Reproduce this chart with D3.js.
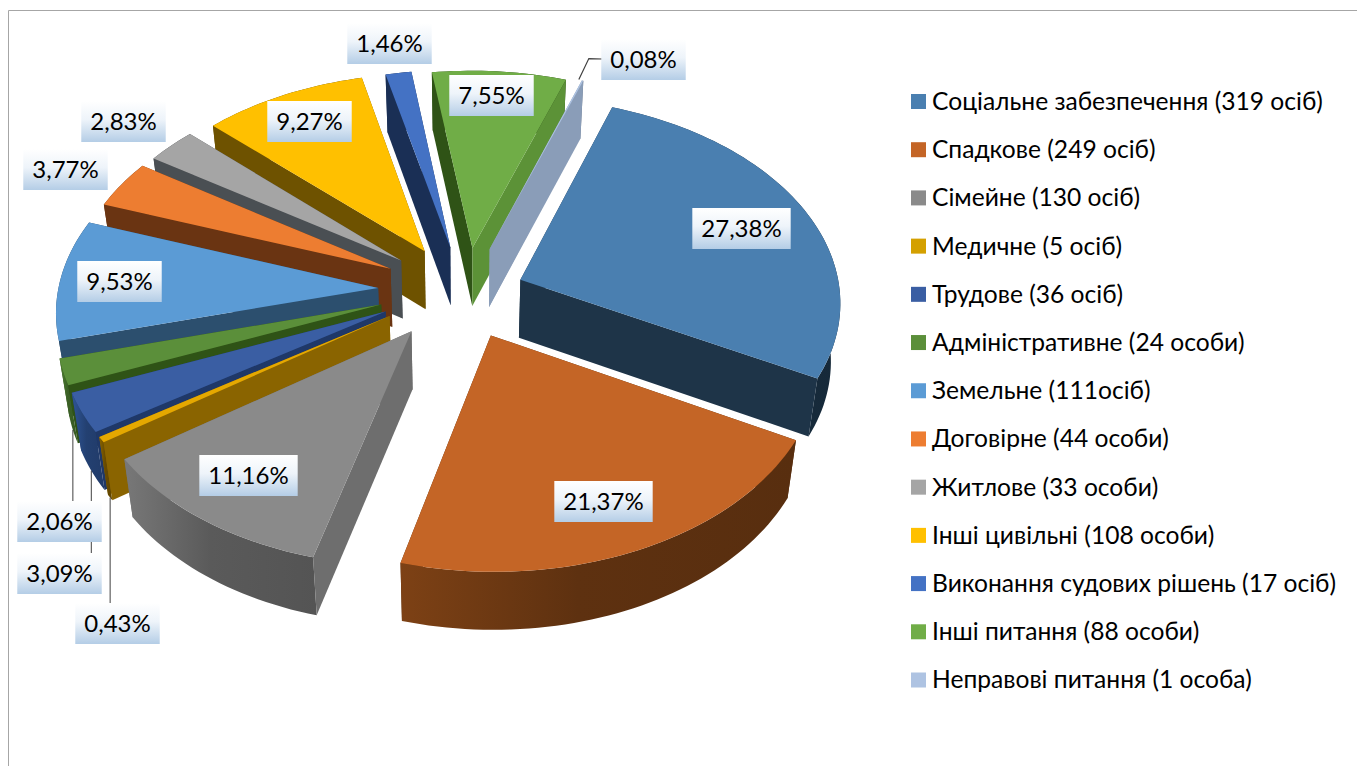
<!DOCTYPE html>
<html>
<head>
<meta charset="utf-8">
<script src="https://cdnjs.cloudflare.com/ajax/libs/d3/7.8.5/d3.min.js"></script>
<style>
  body { margin: 0; background: #fff; }
  text { font-family: Lato, "Noto Sans", sans-serif; fill: #000; }
</style>
</head>
<body>
<div id="chart"></div>
<script>
// legend text and head counts
const categories = ["Соціальне забезпечення (319 осіб)", "Спадкове (249 осіб)", "Сімейне (130 осіб)", "Медичне (5 осіб)",
    "Трудове (36 осіб)", "Адміністративне (24 особи)", "Земельне (111осіб)", "Договірне (44 особи)", "Житлове (33 особи)",
    "Інші цивільні (108 особи)", "Виконання судових рішень (17 осіб)", "Інші питання (88 особи)", "Неправові питання (1 особа)"];
const counts = [319, 249, 130, 5, 36, 24, 111, 44, 33, 108, 17, 88, 1];
const percentLabels = ["27,38%", "21,37%", "11,16%", "0,43%", "3,09%", "2,06%", "9,53%", "3,77%", "2,83%", "9,27%", "1,46%", "7,55%", "0,08%"];

// how far each slice is pulled out, plus small corrections on the page
const explosion = [62, 78, 76, 72, 72, 72, 78, 76, 76, 72, 70, 68, 70];
const nudgeX = [5, 1, -2, -8, -8, -8, -2, 0, 2, 2, 5, 8, 9];
const nudgeY = [4, -1, 1, 0, 0, 0, 0, 0, 0, 0, 0, 0, 0];

// colours
const topColors = ["#4a7fb0", "#c46526", "#8a8a8a", "#e5a800", "#3a5ea3", "#5b8f3a", "#5b9bd5", "#ed7d31", "#a5a5a5", "#ffc000", "#4472c4", "#70ad47", "#aec3e2"];
const legendColors = ["#4a7fb0", "#c46526", "#8a8a8a", "#d4a000", "#3a5ea3", "#5b8f3a", "#5b9bd5", "#ed7d31", "#a5a5a5", "#ffc000", "#4472c4", "#70ad47", "#aec3e2"];
const startWalls = ["#1e3448", "#5a2f0e", "#6e6e6e", "#8a6400", "#1f3868", "#2f5316", "#2c4f6e", "#6a3412", "#4a4f53", "#6e5200", "#1a2f55", "#2f5316", "#8a9db8"];
const endWalls = ["#1e3448", "#5a2f0e", "#6e6e6e", "#8a6400", "#1f3868", "#2f5316", "#2c4f6e", "#6a3412", "#4a4f53", "#6e5200", "#1a2f55", "#5c9237", "#8a9db8"];
const rimColors = ["#1f3a52", "#7d4115", "#787878", "#8a6400", "#2f5596", "#4f8032", "#2c4f6e", "#6a3412", "#4a4f53", "#6e5200", "#1a2f55", "#2f5316", "#8a9db8"];

// label boxes, centre x / y on the page
const labelX = [741.5, 603.5, 248.5, 117.5, 59.5, 59.5, 119.5, 65.5, 123.5, 309.5, 389.5, 491.5, 643.5];
const labelY = [228.5, 501.5, 475.5, 623.5, 573.5, 521.5, 281.5, 169.5, 121.5, 121.5, 43.5, 95.5, 59.5];

const width = 1357, height = 766;
const cx = 458, cy = 290, radius = 320;
const squash = 0.634, persp = 0.1, depth = 58, bottomScale = 0.975;

const svg = d3.select("#chart").append("svg")
    .attr("width", width)
    .attr("height", height)
    .style("display", "block");

const defs = svg.append("defs");

const labelGrad = defs.append("linearGradient").attr("id", "labelGrad")
    .attr("x1", 0).attr("x2", 0).attr("y1", 0).attr("y2", 1);
labelGrad.append("stop").attr("offset", "0%").attr("stop-color", "#ffffff");
labelGrad.append("stop").attr("offset", "45%").attr("stop-color", "#eef4fa");
labelGrad.append("stop").attr("offset", "100%").attr("stop-color", "#b4cde6");

// frame of the chart area, only top and left are visible
svg.append("path")
    .attr("d", `M8.5,${height}V10.5H${width}`)
    .attr("fill", "none")
    .attr("stroke", "#a6a6a6");

const toRad = d => d * Math.PI / 180;
const pie = d3.pie().sort(null).value(d => d)
    .startAngle(toRad(19.45))
    .endAngle(toRad(379.45));

const line = d3.line();

// flat pie coordinates to the page, with a little perspective
function project(slice, angle, r, low) {
    const mid = (slice.startAngle + slice.endAngle) / 2;
    const i = slice.index;
    const X = explosion[i] * Math.sin(mid) + r * Math.sin(angle);
    const Y = -explosion[i] * Math.cos(mid) - r * Math.cos(angle);
    const s = 1 / (1 - persp * Y / radius);
    const f = low ? bottomScale : 1;
    return [cx + X * s * f + nudgeX[i], cy + squash * Y * s + nudgeY[i] + (low ? depth : 0)];
}

function arcPoints(slice, low) {
    const n = Math.max(2, Math.ceil((slice.endAngle - slice.startAngle) / toRad(1.5)));
    return d3.range(n + 1).map(i => {
        const a = slice.startAngle + (slice.endAngle - slice.startAngle) * i / n;
        return project(slice, a, radius, low);
    });
}

const slices = pie(counts);
// rear slices first so the front ones paint over them
const drawOrder = slices.slice().sort((a, b) => {
    const ma = (a.startAngle + a.endAngle) / 2, mb = (b.startAngle + b.endAngle) / 2;
    return -Math.cos(ma) - -Math.cos(mb);
});

const pieG = svg.append("g");

drawOrder.forEach(d => {
    const i = d.index;
    const g = pieG.append("g").attr("class", "slice");
    const apex = project(d, 0, 0, false);
    const apexLow = project(d, 0, 0, true);
    const topArc = arcPoints(d, false);
    const lowArc = arcPoints(d, true);

    const grad = defs.append("linearGradient").attr("id", `rim${i}`);
    grad.append("stop").attr("offset", "0%").attr("stop-color", rimColors[i]);
    grad.append("stop").attr("offset", "45%").attr("stop-color", d3.color(rimColors[i]).darker(0.8));
    grad.append("stop").attr("offset", "100%").attr("stop-color", d3.color(rimColors[i]).darker(1));

    const startWall = line([apex, topArc[0], lowArc[0], apexLow]) + "Z";
    const endWall = line([apex, topArc[topArc.length - 1], lowArc[lowArc.length - 1], apexLow]) + "Z";
    const startFaces = Math.sin(d.startAngle) < 0;
    const endFaces = Math.sin(d.endAngle) > 0;

    // walls turned away first, then the rim, then walls facing the viewer
    if (!startFaces) g.append("path").attr("d", startWall).attr("fill", startWalls[i]);
    if (!endFaces) g.append("path").attr("d", endWall).attr("fill", endWalls[i]);
    g.append("path")
        .attr("d", line(topArc.concat(lowArc.slice().reverse())) + "Z")
        .attr("fill", `url(#rim${i})`);
    if (startFaces) g.append("path").attr("d", startWall).attr("fill", startWalls[i]);
    if (endFaces) g.append("path").attr("d", endWall).attr("fill", endWalls[i]);

    g.append("path")
        .attr("d", line([apex].concat(topArc)) + "Z")
        .attr("fill", topColors[i]);
});

// leader lines for the small slices
[3, 4, 5].forEach(i => {
    const d = slices[i];
    const p = project(d, (d.startAngle + d.endAngle) / 2, radius, true);
    svg.append("path")
        .attr("d", line([p, [p[0], labelY[i] - 20]]))
        .attr("stroke", "#404040")
        .attr("fill", "none");
});
const lastTip = project(slices[12], slices[12].startAngle, radius, false);
svg.append("path")
    .attr("d", line([[lastTip[0] - 3, lastTip[1] - 1], [lastTip[0] + 7, lastTip[1] - 22], [labelX[12] - 41, labelY[12] - 0.5]]))
    .attr("stroke", "#404040")
    .attr("stroke-width", 1.2)
    .attr("fill", "none");

// percent labels
const labels = svg.append("g").selectAll("g")
    .data(percentLabels)
    .enter()
    .append("g")
    .attr("transform", (d, i) => `translate(${labelX[i]},${labelY[i]})`);

labels.append("text")
    .attr("text-anchor", "middle")
    .attr("dy", "0.36em")
    .style("font-size", "24px")
    .text(d => d);

labels.insert("rect", "text")
    .attr("x", function() { return -this.parentNode.querySelector("text").getComputedTextLength() / 2 - 9; })
    .attr("width", function() { return this.parentNode.querySelector("text").getComputedTextLength() + 18; })
    .attr("y", -20.5)
    .attr("height", 41)
    .attr("fill", "url(#labelGrad)");

// legend
const rowY = d3.scalePoint().domain(d3.range(categories.length)).range([101.5, 680]);
const legend = svg.append("g").selectAll("g")
    .data(categories)
    .enter()
    .append("g")
    .attr("transform", (d, i) => `translate(911,${rowY(i)})`);

legend.append("rect")
    .attr("y", -7.5)
    .attr("width", 15)
    .attr("height", 15)
    .attr("fill", (d, i) => legendColors[i]);

legend.append("text")
    .attr("x", 21)
    .attr("dy", "0.34em")
    .style("font-size", "24.6px")
    .text(d => d);
</script>
</body>
</html>
